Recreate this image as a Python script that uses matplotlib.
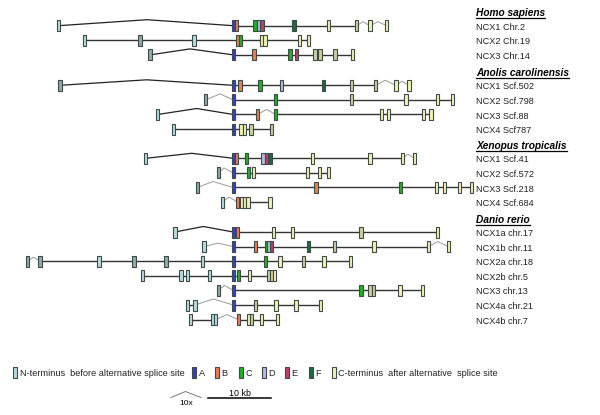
import matplotlib
matplotlib.use("Agg")
import matplotlib.pyplot as plt
from matplotlib.patches import Rectangle
from matplotlib import font_manager

plt.rcParams['font.family'] = ['Liberation Sans', 'DejaVu Sans']
_names = {f.name for f in font_manager.fontManager.ttflist}
if 'Liberation Sans Narrow' in _names:
    LEG_FAMILY, LEG_SIZE = ['Liberation Sans Narrow', 'Liberation Sans'], 7.8
else:
    LEG_FAMILY, LEG_SIZE = ['Liberation Sans', 'DejaVu Sans'], 6.6

# ---------------- data ----------------
# exon positions along a common layout axis (exon A aligned), with exon type code
# N/n: N-terminus before alternative splice site (light / darker shade)
# A..F: alternatively spliced exons ; Z/z: C-terminus after splice site (light / darker)
species = ["Homo sapiens", "Anolis carolinensis", "Xenopus tropicalis", "Danio rerio"]

homo_names = ["NCX1 Chr.2", "NCX2 Chr.19", "NCX3 Chr.14"]
homo_exons = [
    [(58.3, 'N'), (233.3, 'A'), (236.4, 'B'), (255, 'C'), (259, 'D'), (262, 'E'), (294, 'F'),
     (328.3, 'Z'), (356.7, 'z'), (370, 'Z'), (386.7, 'Z')],
    [(84.3, 'N'), (140, 'n'), (194, 'N'), (237.3, 'B'), (240.4, 'C'), (261.7, 'Z'), (265, 'Z'),
     (299.3, 'Z'), (308.3, 'Z')],
    [(150, 'n'), (233.3, 'A'), (254, 'B'), (290, 'C'), (296.7, 'E'), (315, 'z'), (320, 'z'),
     (335, 'z'), (352.7, 'Z')],
]
homo_bends = [[(147, 6), (363, 4), (378, 4)], [], [(190, 6)]]

anolis_names = ["NCX1 Scf.502", "NCX2 Scf.798", "NCX3 Scf.88", "NCX4 Scf787"]
anolis_exons = [
    [(60, 'n'), (233.3, 'A'), (240, 'B'), (260, 'C'), (281.7, 'D'), (323.3, 'F'), (351.7, 'z'),
     (375.7, 'z'), (396, 'Z'), (409, 'Z')],
    [(205.7, 'n'), (233.3, 'A'), (275.7, 'C'), (351.7, 'z'), (406, 'Z'), (437.7, 'Z'), (452.3, 'Z')],
    [(157.7, 'N'), (233.3, 'A'), (257.3, 'B'), (275.7, 'C'), (381.7, 'Z'), (388.3, 'Z'),
     (423.3, 'Z'), (431, 'Z')],
    [(173.3, 'N'), (233.3, 'A'), (241, 'Z'), (244.3, 'Z'), (251, 'z'), (271.7, 'z')],
]
anolis_bends = [[(146.7, 5.5), (385, 5), (402, 4)], [(220, 6)], [(196.7, 6), (266.7, 5)], []]

xenopus_names = ["NCX1 Scf.41", "NCX2 Scf.572", "NCX3 Scf.218", "NCX4 Scf.684"]
xenopus_exons = [
    [(145.7, 'N'), (233.3, 'A'), (236.5, 'B'), (246.7, 'C'), (263, 'D'), (266.3, 'E'), (270.3, 'F'),
     (312.7, 'Z'), (370, 'Z'), (402.7, 'Z'), (414.3, 'Z')],
    [(218.3, 'n'), (233.3, 'A'), (248.3, 'C'), (253.3, 'Z'), (307.7, 'Z'), (319.3, 'Z'), (328.3, 'Z')],
    [(197.3, 'n'), (233.3, 'A'), (316, 'B'), (400.7, 'C'), (436.7, 'Z'), (444.3, 'Z'),
     (459.3, 'Z'), (471.7, 'Z')],
    [(222.3, 'N'), (237.7, 'B'), (241.2, 'Z'), (244.5, 'Z'), (247.8, 'Z'), (270, 'Z')],
]
xenopus_bends = [[(191.7, 5), (408, 4)], [(224, 5)], [(213, 6)], [(229, 5)]]

danio_names = ["NCX1a chr.17", "NCX1b chr.11", "NCX2a chr.18", "NCX2b chr.5",
               "NCX3 chr.13", "NCX4a chr.21", "NCX4b chr.7"]
danio_exons = [
    [(175, 'N'), (233.3, 'A'), (237.3, 'B'), (273.3, 'Z'), (292.7, 'Z'), (361, 'z'), (437.3, 'Z')],
    [(204, 'N'), (233.3, 'A'), (255.7, 'B'), (266.3, 'C'), (269, 'D'), (271.7, 'E'), (308.3, 'F'),
     (334.3, 'z'), (374, 'Z'), (428.3, 'Z'), (448.3, 'Z')],
    [(27.3, 'n'), (40, 'n'), (99, 'N'), (134, 'n'), (166, 'n'), (202.7, 'N'), (233.3, 'A'),
     (265.7, 'C'), (280, 'Z'), (303.3, 'z'), (324, 'Z'), (350.7, 'Z')],
    [(142.7, 'N'), (181, 'N'), (187.3, 'N'), (209.3, 'N'), (233.3, 'A'), (238.5, 'C'),
     (249.3, 'Z'), (268.3, 'z'), (271.4, 'z'), (274.5, 'Z')],
    [(218.3, 'n'), (233.3, 'A'), (361, 'C'), (370, 'z'), (373.3, 'z'), (400, 'Z'), (422.7, 'Z')],
    [(187.7, 'N'), (195, 'N'), (233.3, 'A'), (255.7, 'z'), (276, 'Z'), (296, 'Z'), (320.7, 'Z')],
    [(190.7, 'N'), (212.3, 'N'), (215.7, 'N'), (238.3, 'B'), (248.3, 'Z'), (251.7, 'z'),
     (261.7, 'Z'), (277.3, 'Z')],
]
danio_bends = [[(203.3, 5.5)], [(218, 3.5), (438, 5)], [(33.5, 4)], [], [(224.5, 5)],
               [(213.3, 6)], [(226.7, 5)]]

groups = [
    (homo_names, homo_exons, homo_bends),
    (anolis_names, anolis_exons, anolis_bends),
    (xenopus_names, xenopus_exons, xenopus_bends),
    (danio_names, danio_exons, danio_bends),
]

legend_types = ['N', 'A', 'B', 'C', 'D', 'E', 'F', 'Z']
legend_labels = ["N-terminus  before alternative splice site", "A", "B", "C", "D", "E", "F",
                 "C-terminus  after alternative  splice site"]

# ---------------- style ----------------
face = {'N': '#b4dde0', 'n': '#8fa9aa', 'A': '#3a3ad6', 'B': '#f07a52', 'C': '#22b022',
        'D': '#b8b8e6', 'E': '#c43c6a', 'F': '#1e6a3a', 'Z': '#f4f2b2', 'z': '#cfcf9e'}
edge = '#3c4a48'
EW, EH = 3.4, 11
group_top = [25.7, 85.3, 158.3, 232]
pitch = 14.6

fig = plt.figure(figsize=(6.0, 4.15), dpi=100)
ax = fig.add_axes([0, 0, 1, 1])
ax.set_xlim(0, 600)
ax.set_ylim(415, 0)
ax.axis('off')


def draw_exon(x, y, t):
    ax.add_patch(Rectangle((x - EW / 2, y - EH / 2), EW, EH, facecolor=face[t],
                           edgecolor=edge, linewidth=0.8, zorder=3))


header_texts = []
for gi, (names, exons, bends) in enumerate(groups):
    y0 = group_top[gi]
    header_texts.append(ax.text(476, y0 - 12.5, species[gi], fontsize=7.3, fontweight='bold',
                                fontstyle='italic', va='center', ha='left'))
    for ri, (name, ex, bd) in enumerate(zip(names, exons, bends)):
        y = y0 + ri * pitch
        for (xa, _), (xb, _) in zip(ex[:-1], ex[1:]):
            peak = [b for b in bd if xa < b[0] < xb]
            if peak:
                px, rise = peak[0]
                big = (xb - xa) > 40
                ax.plot([xa, px, xb], [y, y - rise, y],
                        color='#222222' if big else '#9a9a9a',
                        lw=0.9 if big else 0.7, zorder=1)
            else:
                ax.plot([xa, xb], [y, y], color='#333333', lw=1.0, zorder=1)
        for x, t in ex:
            draw_exon(x, y, t)
        ax.text(476, y + 1.5, name, fontsize=6.6, va='center', ha='left', color='#222222')

# legend
leg_y = 372.7
leg_x = [15, 194, 217, 241, 264, 287, 311, 334]
for lx, t, lab in zip(leg_x, legend_types, legend_labels):
    draw_exon(lx, leg_y, t)
    ax.text(lx + 4.5, leg_y + 0.5, lab, fontsize=LEG_SIZE, family=LEG_FAMILY,
            va='center', ha='left', color='#222222')

# scale indicators
ax.plot([171, 185.5, 201], [397.5, 391.5, 397.5], color='#777777', lw=0.7)
ax.text(186, 403, "10x", fontsize=6, ha='center', va='center', family=LEG_FAMILY)
ax.plot([208, 271], [398, 398], color='black', lw=1.1)
ax.text(240, 393, "10 kb", fontsize=6.4, ha='center', va='center', family=LEG_FAMILY)

# underline headers
fig.canvas.draw()
r = fig.canvas.get_renderer()
inv = ax.transData.inverted()
for t in header_texts:
    bb = t.get_window_extent(r)
    (x0, yb), (x1, _) = inv.transform([[bb.x0, bb.y0], [bb.x1, bb.y1]])
    ax.plot([x0, x1], [yb + 0.3, yb + 0.3], color='black', lw=0.9)

fig.savefig("out.png", dpi=100)
